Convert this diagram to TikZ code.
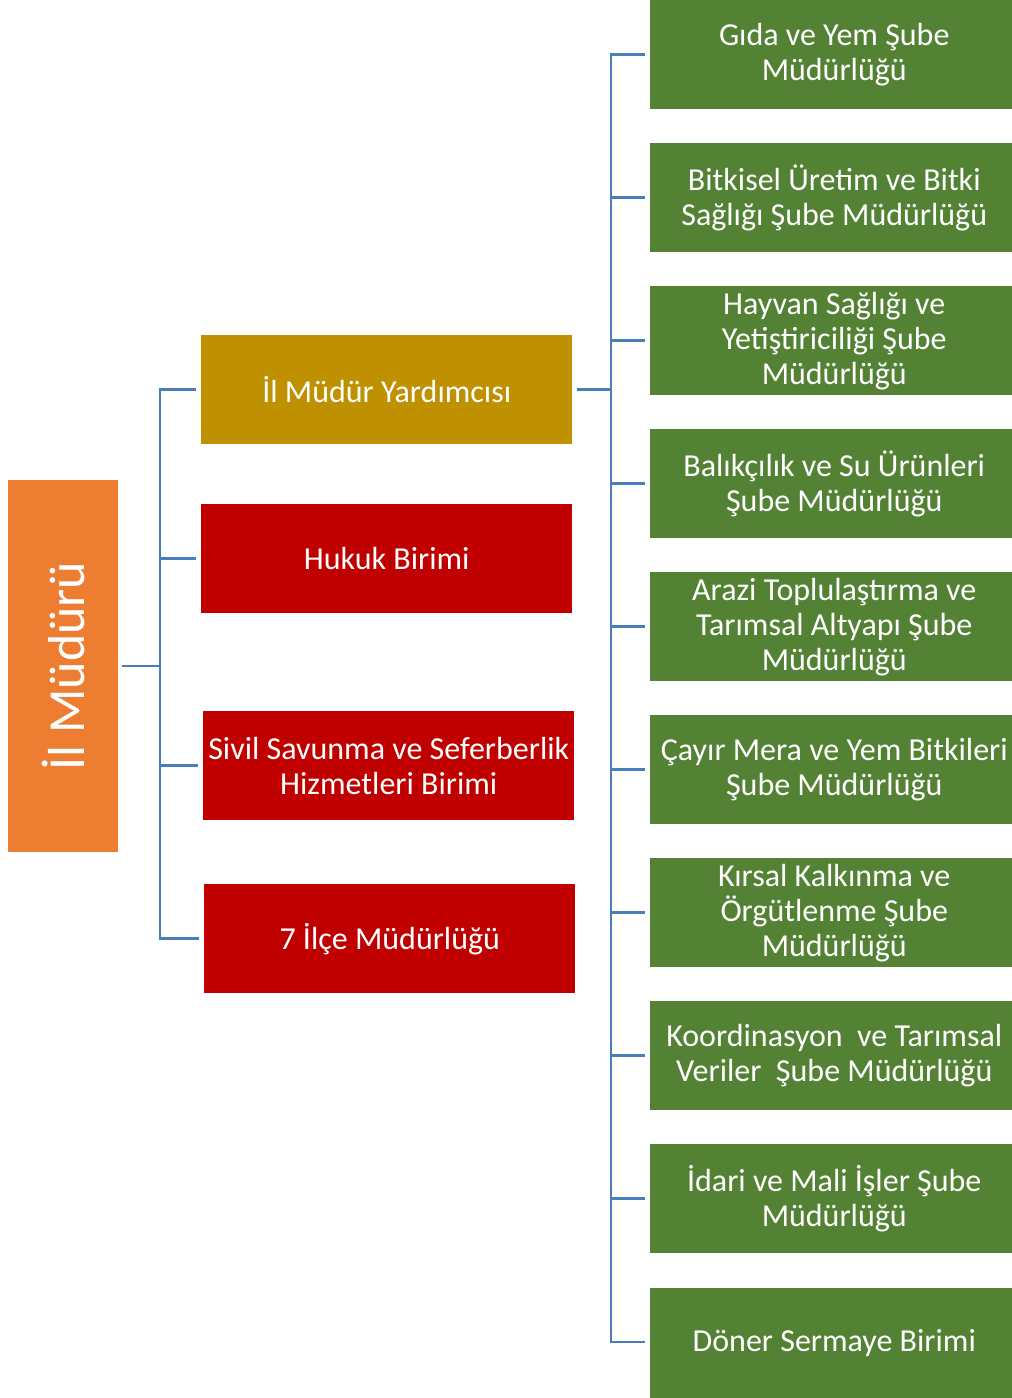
\documentclass[tikz,border=0pt]{standalone}
\usepackage{fontspec}
\setmainfont{Carlito}
\definecolor{orng}{HTML}{ED7D31}
\definecolor{gold}{HTML}{BF9000}
\definecolor{rd}{HTML}{C00000}
\definecolor{grn}{HTML}{548235}
\definecolor{ln}{HTML}{4A7EBB}
\begin{document}
\begin{tikzpicture}[x=0.75pt,y=-0.75pt,
  box/.style={anchor=north west, inner sep=0pt, text=white, align=center,
    font=\fontsize{24}{26.25}\selectfont, minimum height=81.75pt},
  midbox/.style={box, minimum width=278.25pt},
  grnbox/.style={box, fill=grn, minimum width=276pt},
  conn/.style={draw=ln, line width=2.1pt}]
\useasboundingbox (0,0) rectangle (1012,1398);
% main box
\node[fill=orng, rotate=90, minimum width=279pt, minimum height=82.5pt, inner sep=0pt,
  text=white, font=\fontsize{39}{44}\selectfont] (mud) at (63,666) {İl Müdürü};
% middle column
\node[midbox, fill=gold] (yard) at (201,335) {İl Müdür Yardımcısı};
\node[midbox, fill=rd] (huk) at (201,504) {Hukuk Birimi};
\node[midbox, fill=rd] (siv) at (203,711) {Sivil Savunma ve Seferberlik\\Hizmetleri Birimi};
\node[midbox, fill=rd] (ilce) at (204,884) {7 İlçe Müdürlüğü};
% right column
\node[grnbox] (g1) at (650,0) {Gıda ve Yem Şube\\Müdürlüğü};
\node[grnbox] (g2) at (650,143) {Bitkisel Üretim ve Bitki\\Sağlığı Şube Müdürlüğü};
\node[grnbox] (g3) at (650,286) {Hayvan Sağlığı ve\\Yetiştiriciliği Şube\\Müdürlüğü};
\node[grnbox] (g4) at (650,429) {Balıkçılık ve Su Ürünleri\\Şube Müdürlüğü};
\node[grnbox] (g5) at (650,572) {Arazi Toplulaştırma ve\\Tarımsal Altyapı Şube\\Müdürlüğü};
\node[grnbox] (g6) at (650,715) {Çayır Mera ve Yem Bitkileri\\Şube Müdürlüğü};
\node[grnbox] (g7) at (650,858) {Kırsal Kalkınma ve\\Örgütlenme Şube\\Müdürlüğü};
\node[grnbox] (g8) at (650,1001) {Koordinasyon\ \ ve Tarımsal\\Veriler\ \ Şube Müdürlüğü};
\node[grnbox] (g9) at (650,1144) {İdari ve Mali İşler Şube\\Müdürlüğü};
\node[grnbox, minimum height=82.5pt] (g10) at (650,1288) {Döner Sermaye Birimi};
% left tree
\path (mud.south) -| coordinate (lt) (160,0);
\draw[conn, shorten <=3pt] (mud.south) -- (lt);
\draw[conn] (lt) |- ([xshift=-4pt]yard.west);
\draw[conn] (lt |- huk.west) -- ([xshift=-4pt]huk.west);
\draw[conn] (lt) |- ([xshift=-4pt]siv.west);
\draw[conn] (lt) |- ([xshift=-4pt]ilce.west);
% right tree
\path (yard.east) -| coordinate (rt) (611,0);
\draw[conn, shorten <=3pt] (yard.east) -- (rt);
\foreach \g in {g1,g2,g3,g4,g5,g6,g7,g8,g9} {
  \draw[conn] (rt) |- ([xshift=-4pt]\g.west);
}
\draw[conn] (rt) |- ([xshift=-4pt]g10.west |- 0,1342);
\end{tikzpicture}
\end{document}
